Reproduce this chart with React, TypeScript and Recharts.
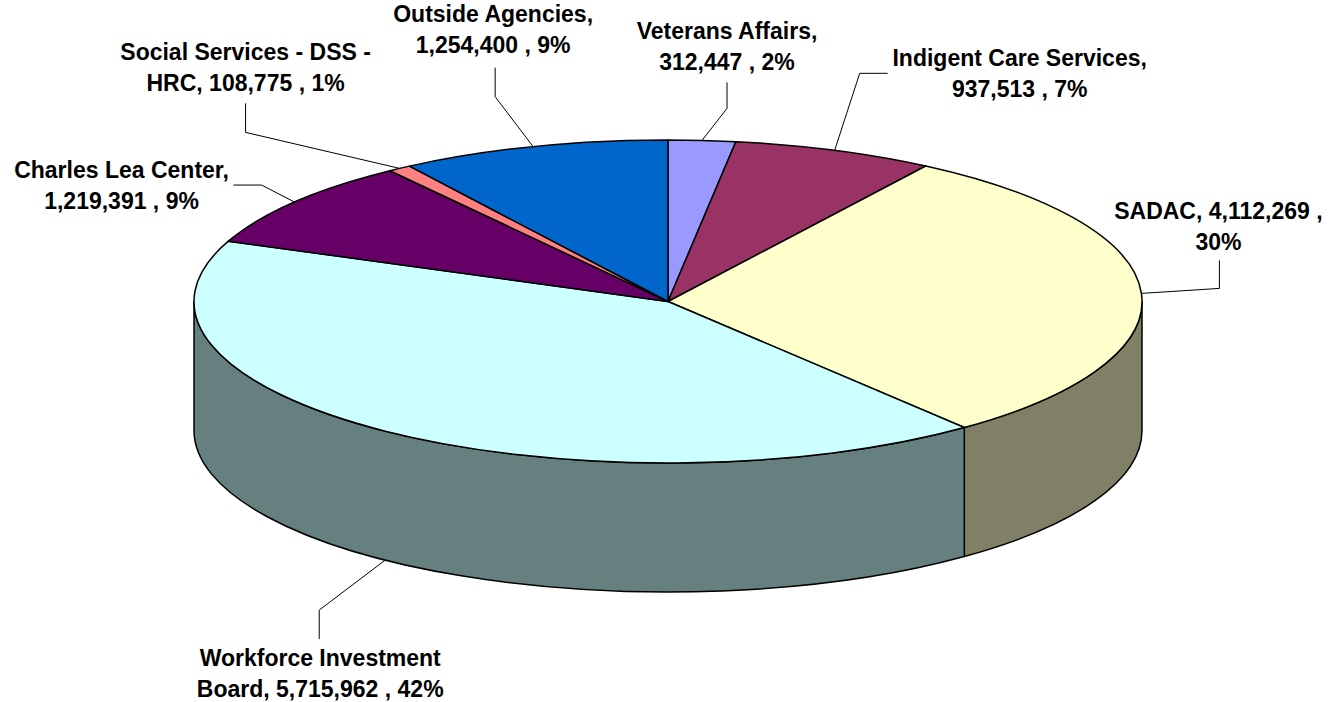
import { PieChart, Pie, Cell } from "recharts";

const names = [
  "Veterans Affairs",
  "Indigent Care Services",
  "SADAC",
  "Workforce Investment Board",
  "Charles Lea Center",
  "Social Services - DSS - HRC",
  "Outside Agencies",
];
const amounts = [312447, 937513, 4112269, 5715962, 1219391, 108775, 1254400];
const topColors = ["#9999FF", "#993366", "#FFFFCC", "#CCFFFF", "#660066", "#FF8080", "#0066CC"];
const sideColors = ["#4D4D80", "#4D1A33", "#808066", "#668080", "#330033", "#804040", "#003366"];
// how many words of each label go on the first line
const firstLineWords = [2, 3, 3, 2, 3, 5, 2];

const data = names.map((name, i) => ({ name, value: amounts[i] }));

const CX = 668;
const CY = 301.5;
const R = 474;
const TILT = 161.5 / 474;
const DEPTH = 129;
const RAD = Math.PI / 180;

// text centre and leader elbow, relative to the point where the leader meets the pie
const labelLayout = [
  { tx: 25, ty: -109, start: [25, -58], elbow: [25, -32] },
  { tx: 185, ty: -92, start: [53, -77], elbow: [25, -77] },
  { tx: 77, ty: -82, start: [78, -33], elbow: [78, -5] },
  { tx: -65, ty: 98, start: [-66, 79], elbow: [-66, 50] },
  { tx: -173, ty: -32, start: [-61, -17], elbow: [-33, -17] },
  { tx: -154, ty: -116, start: [-154, -65], elbow: [-154, -36] },
  { tx: -40, ty: -133, start: [-38, -79], elbow: [-38, -50] },
];

const pt = (cx: number, cy: number, r: number, a: number, drop = 0) => [
  cx + r * Math.cos(a * RAD),
  cy - r * TILT * Math.sin(a * RAD) + drop,
];

function Slice3D(props: any) {
  const { cx, cy, outerRadius: r, startAngle, endAngle, fill } = props;
  const name = props.payload?.name ?? props.name;
  const i = names.indexOf(name);
  const s = Math.max(startAngle, endAngle);
  const e = Math.min(startAngle, endAngle);
  const ry = r * TILT;
  const [sx, sy] = pt(cx, cy, r, s);
  const [ex, ey] = pt(cx, cy, r, e);
  const large = s - e > 180 ? 1 : 0;
  const top = `M${cx},${cy} L${sx},${sy} A${r},${ry} 0 ${large} 1 ${ex},${ey} Z`;

  // front wall: only the part of the rim in the lower half
  let wall = null;
  const hi = Math.min(s, 0);
  const lo = Math.max(e, -180);
  if (lo < hi) {
    const [hx, hy] = pt(cx, cy, r, hi);
    const [lx, ly] = pt(cx, cy, r, lo);
    const d = `M${hx},${hy} A${r},${ry} 0 0 1 ${lx},${ly} L${lx},${ly + DEPTH} A${r},${ry} 0 0 0 ${hx},${hy + DEPTH} Z`;
    wall = <path d={d} fill={sideColors[i]} stroke="#000" strokeWidth={1.5} strokeLinejoin="round" />;
  }

  return (
    <g>
      {wall}
      <path d={top} fill={fill} stroke="#000" strokeWidth={1.5} strokeLinejoin="round" />
    </g>
  );
}

function renderLabel(props: any) {
  const { cx, cy, outerRadius: r, midAngle, percent, value } = props;
  const name = props.payload?.name ?? props.name;
  const i = names.indexOf(name);
  const lay = labelLayout[i];
  const front = Math.sin(midAngle * RAD) < 0;
  const [ax, ay] = pt(cx, cy, r, midAngle, front ? DEPTH : 0);

  const text = `${name}, ${value.toLocaleString("en-US")} , ${Math.round(percent * 100)}%`;
  const words = text.split(" ");
  const lines = [words.slice(0, firstLineWords[i]).join(" "), words.slice(firstLineWords[i]).join(" ")];

  const pts = [
    [ax + lay.start[0], ay + lay.start[1]],
    [ax + lay.elbow[0], ay + lay.elbow[1]],
    [ax, ay],
  ];

  return (
    <g key={name}>
      <polyline points={pts.map((p) => p.join(",")).join(" ")} fill="none" stroke="#000" strokeWidth={1} />
      {lines.map((ln, k) => (
        <text
          key={k}
          x={ax + lay.tx}
          y={ay + lay.ty + k * 31}
          textAnchor="middle"
          dominantBaseline="central"
          fontFamily="'Liberation Sans', Arial, sans-serif"
          fontWeight="bold"
          fontSize={23}
          fill="#000"
        >
          {ln}
        </text>
      ))}
    </g>
  );
}

export default function App() {
  return (
    <div style={{ position: "absolute", left: 0, top: 0 }}>
      <PieChart width={1337} height={702} margin={{ top: 0, right: 0, bottom: 0, left: 0 }}>
        <Pie
          data={data}
          dataKey="value"
          nameKey="name"
          cx={CX}
          cy={CY}
          outerRadius={R}
          startAngle={90}
          endAngle={-270}
          stroke="#000"
          shape={Slice3D}
          label={renderLabel}
          labelLine={false}
          isAnimationActive={false}
        >
          {data.map((d, i) => (
            <Cell key={d.name} fill={topColors[i]} />
          ))}
        </Pie>
      </PieChart>
    </div>
  );
}
